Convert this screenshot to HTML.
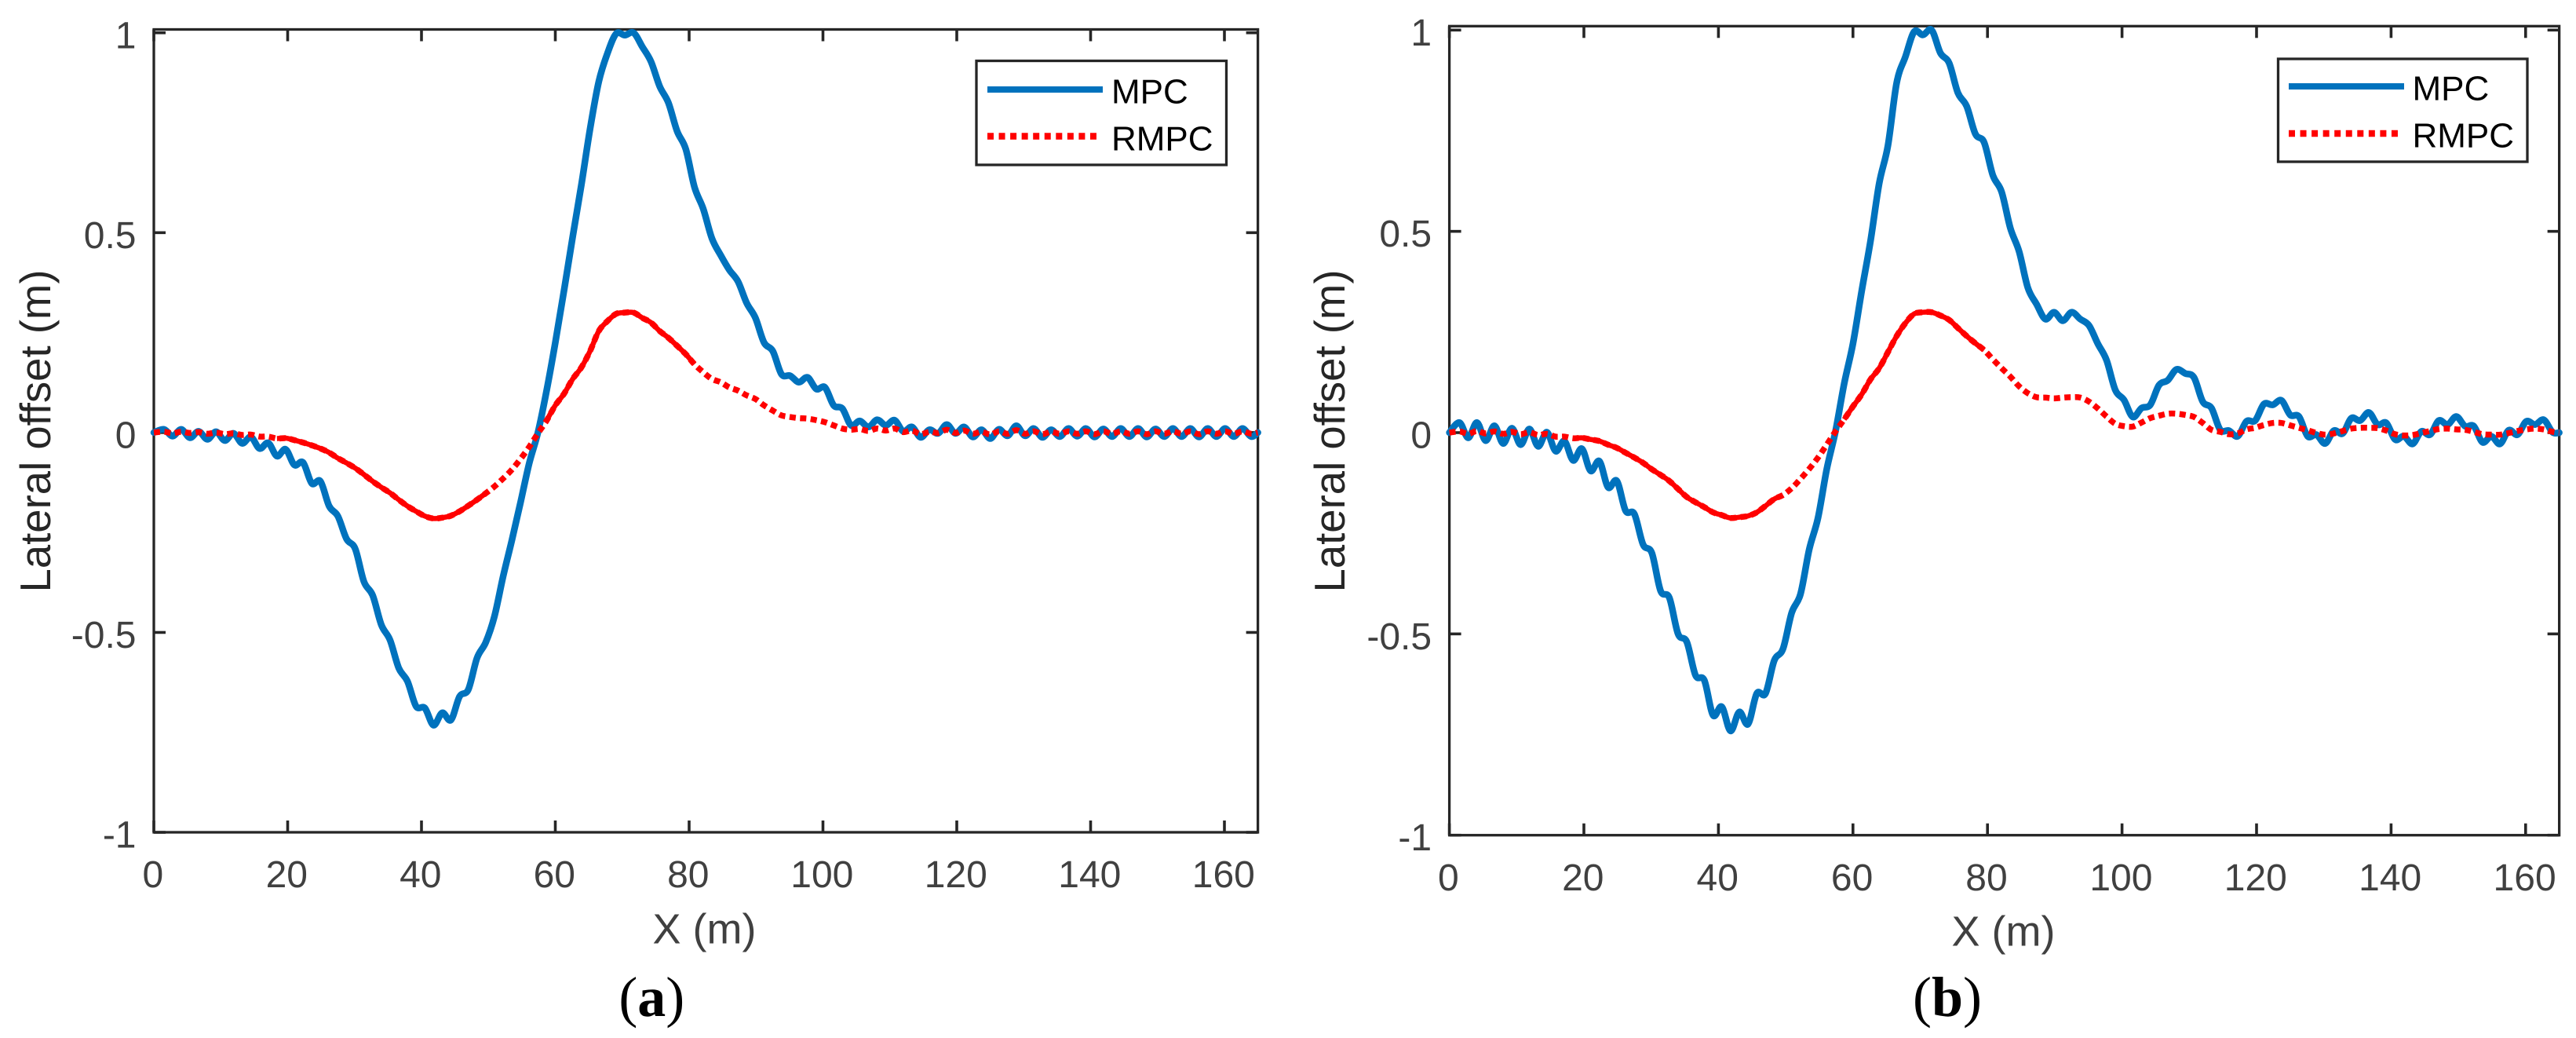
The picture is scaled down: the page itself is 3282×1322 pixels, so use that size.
<!DOCTYPE html>
<html lang="en">
<head>
<meta charset="utf-8">
<title>Lateral offset: MPC vs RMPC</title>
<style>
html,body{margin:0;padding:0;background:#fff;width:3282px;height:1322px;overflow:hidden}
svg{display:block}
text{font-family:"Liberation Sans",Arial,sans-serif}
</style>
</head>
<body>
<svg id="chart" xmlns="http://www.w3.org/2000/svg" width="3282" height="1322" viewBox="0 0 3282 1322">
<rect width="3282" height="1322" fill="#fff"/>
</svg>
<script>
// Shared longitudinal positions (m)
const xValues = [
0,1.5,2.8,4.1,5.4,6.7,8,9.3,10.6,11.9,13.2,
14.5,15.8,17.1,18.4,19.7,21,22.3,23.6,24.9,26.2,
27.5,28.8,30.1,31.4,32.7,34,35.3,36.6,37.9,39.2,
40.5,41.8,43.1,44.4,45.7,47,48.3,49.6,50.9,52.2,
53.5,54.8,56.1,57.4,58.7,60,61.3,62.6,63.9,65.2,
66.5,67.8,69.1,70.4,71.7,73,74.3,75.6,76.9,78.2,
79.5,80.8,82.1,83.4,84.7,86,87.3,88.6,89.9,91.2,
92.5,93.8,95.1,96.4,97.7,99,100.3,101.6,102.9,104.2,
105.5,106.8,108.1,109.4,110.7,112,113.3,114.6,115.9,117.2,
118.5,119.8,121.1,122.4,123.7,125,126.3,127.6,128.9,130.2,
131.5,132.8,134.1,135.4,136.7,138,139.3,140.6,141.9,143.2,
144.5,145.8,147.1,148.4,149.7,151,152.3,153.6,154.9,156.2,
157.5,158.8,160.1,161.4,162.7,164,165];

// Panel (a)
const mpcA = [
0,.008,-.009,.008,-.013,.003,-.017,.002,-.02,-.002,-.027,
-.011,-.04,-.026,-.059,-.042,-.081,-.075,-.127,-.122,-.184,
-.209,-.266,-.291,-.373,-.407,-.481,-.519,-.589,-.622,-.685,
-.689,-.732,-.701,-.719,-.66,-.643,-.564,-.525,-.46,-.36,
-.27,-.175,-.077,0,.105,.225,.355,.49,.62,.76,
.878,.949,.998,.994,1,.965,.928,.866,.825,.754,
.709,.614,.56,.486,.444,.407,.378,.324,.287,.225,
.204,.146,.142,.126,.138,.109,.113,.068,.06,.018,
.029,.014,.032,.018,.031,.003,.014,-.012,.007,-.002,
.02,-.002,.014,-.011,.007,-.015,.008,-.008,.017,-.008,
.01,-.012,.007,-.01,.01,-.009,.01,-.011,.009,-.01,
.01,-.01,.01,-.011,.009,-.01,.01,-.01,.01,-.011,
.01,-.01,.01,-.01,.01,-.01,0];
const rmpcA = [
0,.002,-.002,.002,-.001,.001,-.003,0,-.004,-.002,-.006,
-.005,-.01,-.01,-.015,-.014,-.019,-.025,-.032,-.04,-.05,
-.064,-.076,-.089,-.105,-.122,-.137,-.151,-.168,-.184,-.197,
-.209,-.215,-.213,-.208,-.197,-.183,-.168,-.152,-.135,-.115,
-.093,-.066,-.036,-.002,.03,.068,.097,.134,.163,.204,
.254,.279,.297,.3,.3,.287,.275,.254,.237,.217,
.196,.171,.151,.134,.126,.113,.105,.093,.084,.068,
.055,.043,.039,.036,.035,.031,.026,.018,.01,.007,
.009,.004,.01,.005,.01,.001,.005,-.004,.002,-.001,
.007,-.001,.005,-.003,.002,-.005,.003,-.003,.006,-.003,
.003,-.004,.002,-.003,.003,-.003,.003,-.004,.003,-.003,
.003,-.003,.003,-.004,.003,-.003,.003,-.003,.003,-.004,
.003,-.003,.003,-.003,.003,-.003,0];

// Panel (b)
const mpcB = [
0,.025,-.013,.025,-.02,.017,-.027,.011,-.03,.009,-.034,
.001,-.046,-.021,-.069,-.04,-.095,-.071,-.136,-.12,-.194,
-.202,-.278,-.299,-.393,-.41,-.5,-.52,-.603,-.615,-.702,
-.681,-.741,-.694,-.724,-.648,-.648,-.566,-.537,-.447,-.401,
-.29,-.212,-.091,.003,.122,.221,.352,.475,.619,.713,
.869,.934,.996,.988,1,.943,.918,.844,.811,.742,
.721,.639,.598,.508,.45,.36,.319,.282,.299,.278,
.299,.282,.266,.221,.18,.106,.081,.039,.061,.069,
.118,.13,.157,.147,.137,.077,.061,.007,.005,-.009,
.028,.03,.071,.069,.08,.044,.04,-.009,-.005,-.027,
.005,-.002,.036,.03,.05,.02,.024,-.017,-.009,-.028,
.003,-.005,.03,.02,.04,.016,.016,-.024,-.009,-.028,
.006,-.005,.028,.02,.032,.001,0];
const rmpcB = [
0,.003,-.003,.004,-.002,.003,-.003,.002,-.004,.001,-.006,
-.003,-.01,-.01,-.014,-.013,-.017,-.021,-.03,-.038,-.05,
-.062,-.075,-.091,-.105,-.12,-.14,-.16,-.173,-.185,-.198,
-.205,-.212,-.21,-.207,-.198,-.182,-.165,-.155,-.138,-.115,
-.09,-.062,-.03,.003,.033,.065,.095,.132,.16,.2,
.24,.272,.295,.299,.299,.291,.28,.26,.24,.222,
.205,.182,.16,.139,.115,.098,.088,.087,.085,.087,
.088,.087,.077,.06,.04,.022,.016,.015,.025,.036,
.042,.047,.047,.044,.039,.024,.007,.002,-.004,-.002,
.008,.012,.019,.024,.024,.018,.012,.006,-.001,-.005,
-.002,.004,.01,.012,.012,.011,.005,-.004,-.007,-.006,
-.001,.004,.009,.01,.008,.007,.002,-.004,-.005,-.005,
-.001,.004,.008,.01,.008,.002,0];

// Axis ticks and labels
const xTicks = [0,20,40,60,80,100,120,140,160];
const yTicks = [-1,-0.5,0,0.5,1];
const yTickLabels = ["-1","-0.5","0","0.5","1"];
const seriesNames = ["MPC","RMPC"];
const xAxisTitle = "X (m)";
const yAxisTitle = "Lateral offset (m)";

const svg = document.getElementById('chart');
const NS = 'http://www.w3.org/2000/svg';
const AXIS = '#262626', TICKTXT = '#404040', BLUE = '#0072BD', RED = '#FF0000';

function make(parent, tag, attrs, txt){
  const el = document.createElementNS(NS, tag);
  for (const k in attrs) el.setAttribute(k, attrs[k]);
  if (txt !== undefined) el.textContent = txt;
  parent.appendChild(el);
  return el;
}

function smoothPath(pts){
  let d = 'M' + pts[0][0].toFixed(2) + ' ' + pts[0][1].toFixed(2);
  for (let i = 0; i < pts.length - 1; i++){
    const p0 = pts[Math.max(i - 1, 0)], p1 = pts[i], p2 = pts[i + 1], p3 = pts[Math.min(i + 2, pts.length - 1)];
    const c1x = p1[0] + (p2[0] - p0[0]) / 6, c1y = p1[1] + (p2[1] - p0[1]) / 6;
    const c2x = p2[0] - (p3[0] - p1[0]) / 6, c2y = p2[1] - (p3[1] - p1[1]) / 6;
    d += 'C' + c1x.toFixed(2) + ' ' + c1y.toFixed(2) + ' ' + c2x.toFixed(2) + ' ' + c2y.toFixed(2) + ' ' + p2[0].toFixed(2) + ' ' + p2[1].toFixed(2);
  }
  return d;
}

function drawPanel(cfg){
  const g = make(svg, 'g', {});
  
  

  const xScale = v => cfg.x0 + v * cfg.xUnit;
  const yScale = v => cfg.y0 - v * cfg.yUnit;
  const left = cfg.x0, right = xScale(165), top = cfg.top, bottom = cfg.bottom;

  const box = make(g, 'rect', {x:left, y:top, width:right-left, height:bottom-top, fill:'none', stroke:AXIS, 'stroke-width':3.3});
  
  

  xTicks.forEach(t => {
    const px = xScale(t);
    const lo = make(g, 'line', {x1:px, x2:px, y1:bottom, y2:bottom-15, stroke:AXIS, 'stroke-width':3.6});
    
    
    const hi = make(g, 'line', {x1:px, x2:px, y1:top, y2:top+15, stroke:AXIS, 'stroke-width':3.6});
    
    
    const lab = make(g, 'text', {x:px-1.2, y:cfg.xTickBase, 'font-size':48, 'text-anchor':'middle', fill:TICKTXT}, String(t));
    
    
  });

  yTicks.forEach((t, i) => {
    const py = yScale(t);
    const lo = make(g, 'line', {x1:left, x2:left+15, y1:py, y2:py, stroke:AXIS, 'stroke-width':3.6});
    
    
    const hi = make(g, 'line', {x1:right, x2:right-15, y1:py, y2:py, stroke:AXIS, 'stroke-width':3.6});
    
    
    const lab = make(g, 'text', {x:left-22.5, y:py+19.5, 'font-size':48, 'text-anchor':'end', fill:TICKTXT}, yTickLabels[i]);
    
    
  });

  const xt = make(g, 'text', {x:cfg.xTitleX, y:cfg.xTitleY, 'font-size':54, 'text-anchor':'middle', fill:TICKTXT}, xAxisTitle);
  
  
  const yt = make(g, 'text', {transform:'translate(' + cfg.yTitleX + ',549) rotate(-90)', 'font-size':54.5, 'text-anchor':'middle', fill:AXIS}, yAxisTitle);
  
  

  const mpcPts = xValues.map((x, i) => [xScale(x), yScale(cfg.mpc[i])]);
  const rmpcPts = xValues.map((x, i) => [xScale(x), yScale(cfg.rmpc[i])]);

  const mpcLine = make(g, 'path', {d:smoothPath(mpcPts), fill:'none', stroke:BLUE, 'stroke-width':8.5, 'stroke-linejoin':'round', 'stroke-linecap':'round'});
  
  

  const rmpcLine = make(g, 'path', {d:smoothPath(rmpcPts), fill:'none', stroke:RED, 'stroke-width':7.5, 'stroke-dasharray':'8 5.5'});
  
  

  // Densely sampled stretches of the red trace read as continuous
  cfg.solid.forEach(r => {
    const part = rmpcPts.filter((p, i) => xValues[i] >= r[0] && xValues[i] <= r[1]);
    const seg = make(g, 'path', {d:smoothPath(part), fill:'none', stroke:RED, 'stroke-width':6.5, 'stroke-linejoin':'round'});
    
    
  });

  const lg = make(g, 'g', {});
  
  
  const L = cfg.legend;
  const lb = make(lg, 'rect', {x:L.x, y:L.y, width:L.w, height:L.h, fill:'#fff', stroke:AXIS, 'stroke-width':3.3});
  
  
  const s1 = make(lg, 'line', {x1:L.lx1, x2:L.lx2, y1:L.y1, y2:L.y1, stroke:BLUE, 'stroke-width':8});
  
  
  const s2 = make(lg, 'line', {x1:L.lx1, x2:L.lx3, y1:L.y2, y2:L.y2, stroke:RED, 'stroke-width':8.5, 'stroke-dasharray':'8 6.55'});
  
  
  const t1 = make(lg, 'text', {x:L.tx, y:L.b1, 'font-size':44, fill:'#000'}, seriesNames[0]);
  
  
  const t2 = make(lg, 'text', {x:L.tx, y:L.b2, 'font-size':44, fill:'#000'}, seriesNames[1]);
  
  

  const cap = make(g, 'text', {x:cfg.capX, y:1294, 'font-size':72, 'text-anchor':'middle', fill:'#000', style:'font-family:"Liberation Serif",serif'});
  
  
  const o = make(cap, 'tspan', {}, '(');
  
  
  const b = make(cap, 'tspan', {'font-weight':'bold'}, cfg.id);
  
  
  const c = make(cap, 'tspan', {}, ')');
  
  
}

drawPanel({id:'a', x0:196, xUnit:8.525, y0:550.9, yUnit:509.15, top:37.5, bottom:1060,
  xTickBase:1130, xTitleX:897.5, xTitleY:1201.7, yTitleX:64, capX:830.3,
  mpc:mpcA, rmpc:rmpcA, solid:[[18,50],[58,82]],
  legend:{x:1244, y:77.5, w:318.5, h:132.5, lx1:1258, lx2:1405, lx3:1398, y1:114, y2:173.5, tx:1416, b1:131.7, b2:191.7}});

drawPanel({id:'b', x0:1846.6, xUnit:8.57, y0:551, yUnit:512.7, top:33.3, bottom:1063.7,
  xTickBase:1134, xTitleX:2552.5, xTitleY:1204.5, yTitleX:1713, capX:2481,
  mpc:mpcB, rmpc:rmpcB, solid:[[18,50],[58,80]],
  legend:{x:2902.5, y:75, w:317.5, h:131, lx1:2916, lx2:3063, lx3:3056, y1:110, y2:170, tx:3073.5, b1:127.7, b2:187.7}});
</script>
</body>
</html>
